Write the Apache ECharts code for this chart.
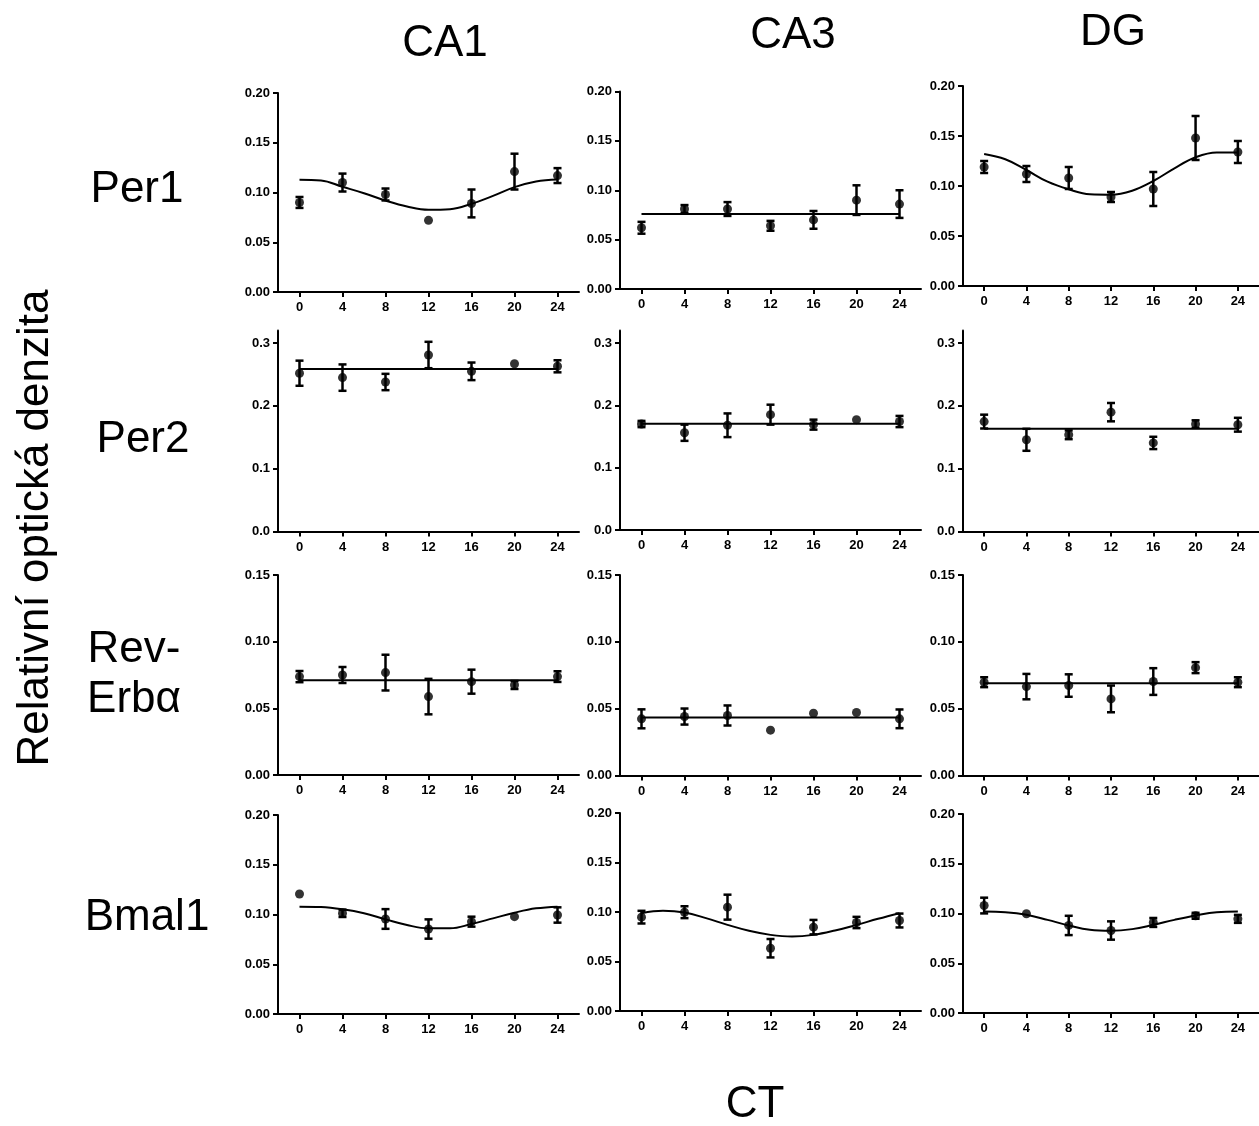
<!DOCTYPE html>
<html>
<head>
<meta charset="utf-8">
<script src="https://cdn.jsdelivr.net/npm/echarts@6/dist/echarts.min.js"></script>
<style>
  html, body { margin: 0; padding: 0; background: #fff; }
  #chart { width: 1259px; height: 1126px; }
</style>
</head>
<body>
<div id="chart"></div>
<script>
// sampling times (CT hours)
const ctHours = [0, 4, 8, 12, 16, 20, 24];
const fitHours = [0, 2, 4, 6, 8, 10, 12, 14, 16, 18, 20, 22, 24];
const flatHours = [0, 24];

const regions = ['CA1', 'CA3', 'DG'];
const genes = ['Per1', 'Per2', 'Rev-\nErbα', 'Bmal1'];

// y tick labels per gene row
const ticksPer1 = [0, 0.05, 0.10, 0.15, 0.20];
const ticksPer2 = [0, 0.1, 0.2, 0.3];
const ticksRev = [0, 0.05, 0.10, 0.15];
const ticksBmal1 = [0, 0.05, 0.10, 0.15, 0.20];

// Per1
const per1CA1Mean = [0.090, 0.110, 0.098, 0.072, 0.089, 0.121, 0.117];
const per1CA1Sem = [0.0055, 0.009, 0.006, 0, 0.014, 0.018, 0.0075];
const per1CA1Fit = [0.1128, 0.1121, 0.1057, 0.0993, 0.0919, 0.0859, 0.0826, 0.0832, 0.0886, 0.0966, 0.1054, 0.1111, 0.1131];

const per1CA3Mean = [0.062, 0.081, 0.081, 0.064, 0.070, 0.090, 0.086];
const per1CA3Sem = [0.006, 0.004, 0.007, 0.005, 0.009, 0.015, 0.014];
const per1CA3Fit = [0.076, 0.076];

const per1DGMean = [0.119, 0.112, 0.108, 0.089, 0.097, 0.148, 0.134];
const per1DGSem = [0.006, 0.008, 0.011, 0.005, 0.017, 0.022, 0.011];
const per1DGFit = [0.132, 0.1267, 0.116, 0.1043, 0.0967, 0.0917, 0.0913, 0.0953, 0.105, 0.1177, 0.1287, 0.1335, 0.1335];

// Per2
const per2CA1Mean = [0.252, 0.245, 0.238, 0.281, 0.255, 0.267, 0.263];
const per2CA1Sem = [0.020, 0.021, 0.013, 0.021, 0.014, 0, 0.0096];
const per2CA1Fit = [0.2586, 0.2586];

const per2CA3Mean = [0.170, 0.156, 0.168, 0.185, 0.169, 0.177, 0.174];
const per2CA3Sem = [0.005, 0.013, 0.019, 0.016, 0.008, 0, 0.009];
const per2CA3Fit = [0.1703, 0.1703];

const per2DGMean = [0.175, 0.146, 0.154, 0.190, 0.141, 0.171, 0.170];
const per2DGSem = [0.011, 0.0175, 0.007, 0.0146, 0.0098, 0.006, 0.011];
const per2DGFit = [0.1636, 0.1636];

// Rev-Erb alpha
const revCA1Mean = [0.0738, 0.075, 0.0768, 0.0588, 0.070, 0.0675, 0.0738];
const revCA1Sem = [0.0042, 0.006, 0.0134, 0.0133, 0.009, 0.003, 0.004];
const revCA1Fit = [0.071, 0.071];

const revCA3Mean = [0.0424, 0.0441, 0.0449, 0.0339, 0.0466, 0.0471, 0.0424];
const revCA3Sem = [0.0071, 0.006, 0.0075, 0, 0, 0, 0.007];
const revCA3Fit = [0.0434, 0.0434];

const revDGMean = [0.0698, 0.0665, 0.0673, 0.0573, 0.0703, 0.0807, 0.0698];
const revDGSem = [0.0037, 0.0095, 0.0084, 0.010, 0.010, 0.0041, 0.0037];
const revDGFit = [0.069, 0.069];

// Bmal1
const bmal1CA1Mean = [0.1206, 0.1012, 0.0955, 0.0854, 0.0928, 0.0978, 0.0995];
const bmal1CA1Sem = [0, 0.0037, 0.0099, 0.0097, 0.005, 0, 0.0077];
const bmal1CA1Fit = [0.1079, 0.1075, 0.1052, 0.1012, 0.0951, 0.0894, 0.0861, 0.0861, 0.0905, 0.0961, 0.1018, 0.1062, 0.1079];

const bmal1CA3Mean = [0.0948, 0.0998, 0.1049, 0.0634, 0.0847, 0.0894, 0.0914];
const bmal1CA3Sem = [0.0064, 0.006, 0.0126, 0.0093, 0.0073, 0.0057, 0.007];
const bmal1CA3Fit = [0.0988, 0.1012, 0.0995, 0.0938, 0.087, 0.081, 0.0769, 0.0752, 0.0769, 0.0813, 0.087, 0.0931, 0.0988];

const bmal1DGMean = [0.108, 0.0997, 0.088, 0.0829, 0.091, 0.0977, 0.0946];
const bmal1DGSem = [0.0079, 0, 0.0097, 0.0092, 0.0045, 0.003, 0.004];
const bmal1DGFit = [0.102, 0.1013, 0.0987, 0.0936, 0.088, 0.0836, 0.0826, 0.0843, 0.0886, 0.0936, 0.098, 0.1013, 0.102];

const panels = [
  { mean: per1CA1Mean, sem: per1CA1Sem, fit: per1CA1Fit, ticks: ticksPer1, max: 0.20, dec: 2 },
  { mean: per1CA3Mean, sem: per1CA3Sem, fit: per1CA3Fit, ticks: ticksPer1, max: 0.20, dec: 2 },
  { mean: per1DGMean, sem: per1DGSem, fit: per1DGFit, ticks: ticksPer1, max: 0.20, dec: 2 },
  { mean: per2CA1Mean, sem: per2CA1Sem, fit: per2CA1Fit, ticks: ticksPer2, max: 0.32, dec: 1 },
  { mean: per2CA3Mean, sem: per2CA3Sem, fit: per2CA3Fit, ticks: ticksPer2, max: 0.32, dec: 1 },
  { mean: per2DGMean, sem: per2DGSem, fit: per2DGFit, ticks: ticksPer2, max: 0.32, dec: 1 },
  { mean: revCA1Mean, sem: revCA1Sem, fit: revCA1Fit, ticks: ticksRev, max: 0.15, dec: 2 },
  { mean: revCA3Mean, sem: revCA3Sem, fit: revCA3Fit, ticks: ticksRev, max: 0.15, dec: 2 },
  { mean: revDGMean, sem: revDGSem, fit: revDGFit, ticks: ticksRev, max: 0.15, dec: 2 },
  { mean: bmal1CA1Mean, sem: bmal1CA1Sem, fit: bmal1CA1Fit, ticks: ticksBmal1, max: 0.20, dec: 2 },
  { mean: bmal1CA3Mean, sem: bmal1CA3Sem, fit: bmal1CA3Fit, ticks: ticksBmal1, max: 0.20, dec: 2 },
  { mean: bmal1DGMean, sem: bmal1DGSem, fit: bmal1DGFit, ticks: ticksBmal1, max: 0.20, dec: 2 }
];

// layout of the small plots (pixels)
const colLeft = [278, 620, 963];
const plotWidth = 301;
const plotTops = [[93, 91.5, 86], [330.5, 330.5, 330.5], [575, 575, 575], [815, 813, 814]];
const plotBottoms = [[292, 289, 286], [531.5, 530, 531.5], [775, 775.5, 775.5], [1014, 1011, 1013]];

const font = '"Liberation Sans", Arial, sans-serif';

const grid = [], xAxis = [], yAxis = [], series = [];

panels.forEach(function (p, i) {
  const row = Math.floor(i / 3), col = i % 3;
  const top = plotTops[row][col];
  grid.push({
    left: colLeft[col],
    top: top,
    width: plotWidth,
    height: plotBottoms[row][col] - top
  });
  xAxis.push({
    type: 'value',
    gridIndex: i,
    min: -2,
    max: 26,
    axisLine: { onZero: false, lineStyle: { color: '#000', width: 2 } },
    axisTick: { customValues: ctHours, length: 5, lineStyle: { color: '#000', width: 2 } },
    axisLabel: {
      customValues: ctHours, color: '#000', fontSize: 13, fontWeight: 'bold',
      fontFamily: font, margin: 9
    },
    splitLine: { show: false }
  });
  yAxis.push({
    type: 'value',
    gridIndex: i,
    min: 0,
    max: p.max,
    axisLine: { show: true, onZero: false, lineStyle: { color: '#000', width: 2 } },
    axisTick: { show: true, customValues: p.ticks, length: 5, lineStyle: { color: '#000', width: 2 } },
    axisLabel: {
      customValues: p.ticks, color: '#000', fontSize: 13, fontWeight: 'bold',
      fontFamily: font, margin: 8,
      formatter: function (v) { return v.toFixed(p.dec); }
    },
    splitLine: { show: false }
  });

  const hours = p.fit.length === 2 ? flatHours : fitHours;
  series.push({
    type: 'line',
    xAxisIndex: i, yAxisIndex: i,
    data: hours.map(function (h, k) { return [h, p.fit[k]]; }),
    smooth: 0.4,
    showSymbol: false,
    lineStyle: { color: '#000', width: 2 },
    silent: true,
    z: 2
  });
  series.push({
    type: 'custom',
    xAxisIndex: i, yAxisIndex: i,
    data: ctHours.map(function (h, k) {
      return [h, p.mean[k] - p.sem[k], p.mean[k] + p.sem[k], p.sem[k]];
    }),
    encode: { x: 0, y: [1, 2] },
    renderItem: function (params, api) {
      if (api.value(3) === 0) return null;
      const hi = api.coord([api.value(0), api.value(2)]);
      const lo = api.coord([api.value(0), api.value(1)]);
      const hw = 4;
      const st = { stroke: '#000', lineWidth: 2.5 };
      return {
        type: 'group',
        children: [
          { type: 'line', shape: { x1: hi[0], y1: hi[1], x2: lo[0], y2: lo[1] }, style: st },
          { type: 'line', shape: { x1: hi[0] - hw, y1: hi[1], x2: hi[0] + hw, y2: hi[1] }, style: st },
          { type: 'line', shape: { x1: lo[0] - hw, y1: lo[1], x2: lo[0] + hw, y2: lo[1] }, style: st }
        ]
      };
    },
    silent: true,
    z: 3
  });
  series.push({
    type: 'scatter',
    xAxisIndex: i, yAxisIndex: i,
    data: ctHours.map(function (h, k) { return [h, p.mean[k]]; }),
    symbol: 'circle',
    symbolSize: 9,
    itemStyle: { color: '#000' },
    silent: true,
    z: 4
  });
});

const bigText = { fill: '#000', fontSize: 44, fontFamily: font, textAlign: 'center', textVerticalAlign: 'middle' };
const colCenters = [[445, 44], [793, 36], [1113, 33]];
const rowCenters = [[137, 190], [143, 440], [134, 675], [147, 918]];

const graphic = [];
regions.forEach(function (name, k) {
  graphic.push({ type: 'text', x: colCenters[k][0], y: colCenters[k][1], style: Object.assign({ text: name }, bigText) });
});
genes.forEach(function (name, k) {
  graphic.push({ type: 'text', x: rowCenters[k][0], y: rowCenters[k][1], style: Object.assign({ text: name, lineHeight: 50 }, bigText) });
});
graphic.push({
  type: 'text', x: 36, y: 528, rotation: Math.PI / 2,
  style: Object.assign({ text: 'Relativní optická denzita' }, bigText)
});
graphic.push({ type: 'text', x: 755, y: 1105, style: Object.assign({ text: 'CT' }, bigText) });

const chart = echarts.init(document.getElementById('chart'));
chart.setOption({
  backgroundColor: '#fff',
  animation: false,
  grid: grid,
  xAxis: xAxis,
  yAxis: yAxis,
  series: series,
  graphic: graphic
});
</script>
</body>
</html>
